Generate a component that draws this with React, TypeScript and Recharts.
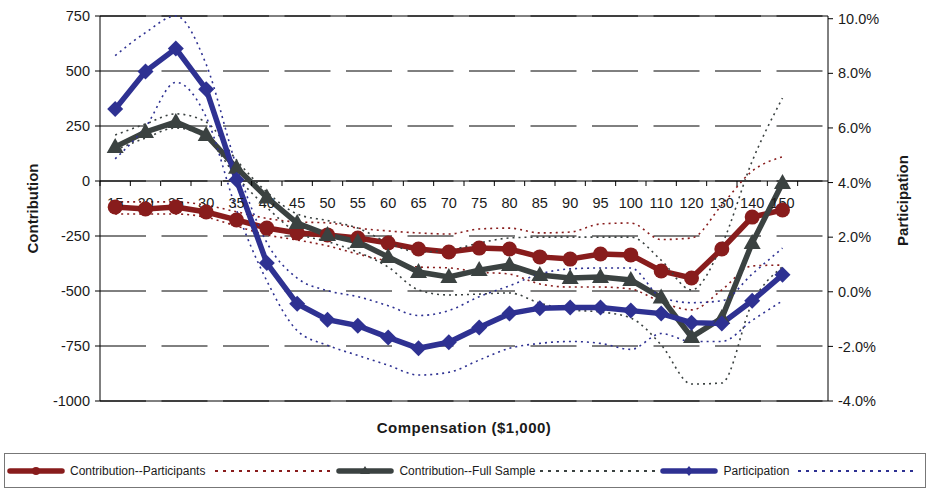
import { CartesianGrid, Legend, Line, LineChart, ReferenceLine, XAxis, YAxis } from "recharts";

// compensation brackets ($1,000); the axis keeps one empty slot after 150
const categories = [
  "15", "20", "25", "30", "35", "40", "45", "50", "55", "60", "65", "70",
  "75", "80", "85", "90", "95", "100", "110", "120", "130", "140", "150",
];
const SLOTS = categories.length + 1;

// contribution, participants only (left axis)
const contribPart = [-118, -127, -118, -141, -177, -214, -236, -245, -259, -282, -309, -323, -305, -309, -345, -355, -332, -336, -409, -441, -309, -164, -132];
const contribPartHi = [-95, -95, -95, -110, -140, -170, -186, -190, -214, -227, -236, -241, -218, -214, -236, -232, -195, -191, -266, -259, -109, 45, 110];
const contribPartLo = [-150, -150, -150, -165, -205, -245, -268, -295, -332, -364, -391, -395, -414, -423, -468, -482, -482, -491, -550, -586, -495, -386, -382];

// contribution, full sample (left axis)
const contribFull = [155, 223, 268, 209, 60, -75, -191, -245, -277, -345, -414, -436, -405, -382, -427, -441, -436, -450, -530, -709, -623, -282, -9];
const contribFullHi = [209, 259, 305, 268, 95, -50, -150, -180, -214, -280, -323, -314, -282, -259, -255, -255, -255, -255, -360, -495, -290, 90, 377];
const contribFullLo = [141, 195, 241, 195, 20, -120, -235, -275, -323, -391, -495, -518, -514, -509, -555, -586, -595, -623, -745, -923, -918, -555, -390];

// participation rate, % (right axis)
const participation = [6.69, 8.07, 8.91, 7.42, 4.1, 1.05, -0.44, -1.02, -1.24, -1.67, -2.07, -1.85, -1.31, -0.8, -0.6, -0.58, -0.58, -0.69, -0.8, -1.13, -1.16, -0.33, 0.62];
const participationHi = [8.65, 9.49, 10.1, 8.33, 4.6, 1.8, 0.5, 0.04, -0.18, -0.51, -0.87, -0.69, -0.18, 0.22, 0.65, 0.84, 0.87, 0.87, -0.2, -0.4, -0.33, 0.65, 1.6];
const participationLo = [4.87, 6.04, 7.67, 6.4, 3.0, 0.4, -1.42, -1.96, -2.33, -2.69, -3.05, -2.95, -2.5, -2.07, -1.89, -1.82, -1.89, -2.11, -1.53, -1.82, -1.82, -1.05, -0.33];

const leftTicks = [-1000, -750, -500, -250, 0, 250, 500, 750];
const rightTicks = [-4, -2, 0, 2, 4, 6, 8, 10];

const FONT = "'Liberation Sans', Arial, sans-serif";
const RED = "#881c1c";
const GRAY = "#3b4241";
const BLUE = "#2e3192";
const TEXT = "#1a1a1a";

const PLOT_W = 728;
const STEP = PLOT_W / SLOTS;

const data = categories.map((comp, i) => ({
  comp,
  cp: contribPart[i],
  cpHi: contribPartHi[i],
  cpLo: contribPartLo[i],
  cf: contribFull[i],
  cfHi: contribFullHi[i],
  cfLo: contribFullLo[i],
  pr: participation[i],
  prHi: participationHi[i],
  prLo: participationLo[i],
}));

function circleDot(p: any) {
  if (p.cx == null || p.cy == null) return <g key={`c${p.index}`} />;
  return <circle key={`c${p.index}`} cx={p.cx} cy={p.cy} r={7.5} fill={RED} />;
}

function triangleDot(p: any) {
  if (p.cx == null || p.cy == null) return <g key={`t${p.index}`} />;
  const { cx, cy } = p;
  return (
    <polygon
      key={`t${p.index}`}
      points={`${cx},${cy - 9} ${cx + 8.5},${cy + 6} ${cx - 8.5},${cy + 6}`}
      fill={GRAY}
    />
  );
}

function diamondDot(p: any) {
  if (p.cx == null || p.cy == null) return <g key={`d${p.index}`} />;
  const { cx, cy } = p;
  return (
    <polygon
      key={`d${p.index}`}
      points={`${cx},${cy - 8} ${cx + 8},${cy} ${cx},${cy + 8} ${cx - 8},${cy}`}
      fill={BLUE}
    />
  );
}

// category labels and between-category tick marks sit on the zero line
function ZeroAxisTicks({ viewBox }: any) {
  if (!viewBox) return null;
  const { x, y, width } = viewBox;
  const step = width / SLOTS;
  const slots = [...categories, ""];
  return (
    <g>
      {slots.map((c, i) => (
        <g key={i}>
          <line x1={x + i * step} x2={x + i * step} y1={y} y2={y + 5} stroke="#000" />
          {c && (
            <text x={x + (i + 0.5) * step} y={y + 27} textAnchor="middle" fontSize={14.5} fontFamily={FONT} fill={TEXT}>
              {c}
            </text>
          )}
        </g>
      ))}
    </g>
  );
}

const legendEntries = [
  { kind: "solid", color: RED, marker: "circle", name: "Contribution--Participants", gapAfter: 10 },
  { kind: "dotted", color: RED, gapAfter: 6 },
  { kind: "solid", color: GRAY, marker: "triangle", name: "Contribution--Full Sample", gapAfter: 5 },
  { kind: "dotted", color: GRAY, gapAfter: 5 },
  { kind: "solid", color: BLUE, marker: "diamond", name: "Participation", gapAfter: 8 },
  { kind: "dotted", color: BLUE, gapAfter: 0 },
];

function LegendSample({ entry }: any) {
  if (entry.kind === "dotted") {
    return (
      <svg width={115} height={10} style={{ display: "block" }}>
        <line x1={0} x2={115} y1={5} y2={5} stroke={entry.color} strokeWidth={1.8} strokeDasharray="3 5" />
      </svg>
    );
  }
  let marker = null;
  if (entry.marker === "circle") marker = <circle cx={29} cy={5} r={4} fill={entry.color} />;
  if (entry.marker === "triangle") marker = <polygon points="29,0 34,8 24,8" fill={entry.color} />;
  if (entry.marker === "diamond") marker = <polygon points="29,0 33,5 29,10 25,5" fill={entry.color} />;
  return (
    <svg width={58} height={10} style={{ display: "block" }}>
      <line x1={3} x2={55} y1={5} y2={5} stroke={entry.color} strokeWidth={5.5} strokeLinecap="round" />
      {marker}
    </svg>
  );
}

function ChartLegend() {
  return (
    <div
      style={{
        width: 918,
        height: 33,
        border: "1px solid #777",
        display: "flex",
        alignItems: "center",
        paddingLeft: 2,
        boxSizing: "content-box",
        fontFamily: FONT,
        fontSize: 12,
        color: TEXT,
      }}
    >
      {legendEntries.map((e, i) => (
        <div key={i} style={{ display: "flex", alignItems: "center", marginRight: e.gapAfter }}>
          <LegendSample entry={e} />
          {e.name && <span style={{ marginLeft: 5, whiteSpace: "nowrap" }}>{e.name}</span>}
        </div>
      ))}
    </div>
  );
}

export default function App() {
  const band = { type: "monotone" as const, dot: false, activeDot: false, strokeWidth: 1.6, strokeDasharray: "2 4", isAnimationActive: false, legendType: "none" as const };
  return (
    <div style={{ position: "absolute", left: 0, top: 0, background: "#fff" }}>
      <LineChart width={927} height={489} data={data} margin={{ top: 16, right: 0, bottom: 1, left: 0 }}>
        <CartesianGrid yAxisId="left" vertical={false} stroke="#000" strokeDasharray="46 15.5" />
        <XAxis
          dataKey="comp"
          interval={0}
          height={52}
          padding={{ left: STEP / 2, right: STEP * 1.5 }}
          tick={false}
          tickLine={false}
          axisLine={{ stroke: "#000" }}
          label={{ value: "Compensation ($1,000)", position: "insideBottom", offset: 20, fontSize: 15, fontWeight: "bold", fontFamily: FONT, fill: TEXT, letterSpacing: 0.5 }}
        />
        <YAxis
          yAxisId="left"
          width={100}
          domain={[-1000, 750]}
          ticks={leftTicks}
          interval={0}
          tickSize={5}
          tickMargin={5}
          axisLine={{ stroke: "#000" }}
          tickLine={{ stroke: "#000" }}
          tick={{ fontSize: 14.5, fontFamily: FONT, fill: TEXT }}
          label={{ value: "Contribution", angle: -90, position: "insideLeft", offset: 33, fontSize: 15, fontWeight: "bold", fontFamily: FONT, fill: TEXT, style: { textAnchor: "middle" } }}
        />
        <YAxis
          yAxisId="right"
          orientation="right"
          width={99}
          domain={[-4, 10]}
          ticks={rightTicks}
          interval={0}
          tickSize={5}
          tickMargin={5}
          axisLine={{ stroke: "#000" }}
          tickLine={{ stroke: "#000" }}
          tickFormatter={(v: number) => `${v.toFixed(1)}%`}
          tick={{ fontSize: 14.5, fontFamily: FONT, fill: TEXT }}
          label={{ value: "Participation", angle: -90, position: "insideRight", offset: 24, dy: -8, fontSize: 15, fontWeight: "bold", fontFamily: FONT, fill: TEXT, style: { textAnchor: "middle" } }}
        />
        <ReferenceLine yAxisId="left" y={750} stroke="#000" />
        <ReferenceLine yAxisId="left" y={0} stroke="#000" />

        <Line yAxisId="left" dataKey="cp" stroke={RED} strokeWidth={5.5} dot={circleDot} activeDot={false} isAnimationActive={false} />
        <Line yAxisId="left" dataKey="cpHi" stroke={RED} {...band} />
        <Line yAxisId="left" dataKey="cpLo" stroke={RED} {...band} />

        <Line yAxisId="left" dataKey="cf" stroke={GRAY} strokeWidth={5.5} dot={triangleDot} activeDot={false} isAnimationActive={false} />
        <Line yAxisId="left" dataKey="cfHi" stroke={GRAY} {...band} />
        <Line yAxisId="left" dataKey="cfLo" stroke={GRAY} {...band} />

        <Line yAxisId="right" dataKey="pr" stroke={BLUE} strokeWidth={5.5} dot={diamondDot} activeDot={false} isAnimationActive={false} />
        <Line yAxisId="right" dataKey="prHi" stroke={BLUE} {...band} />
        <Line yAxisId="right" dataKey="prLo" stroke={BLUE} {...band} />

        {/* category labels drawn last so they sit over the series, as in the original */}
        <ReferenceLine yAxisId="left" y={0} stroke="none" label={<ZeroAxisTicks />} />

        <Legend verticalAlign="bottom" wrapperStyle={{ left: 4, bottom: 1, width: 921 }} content={() => <ChartLegend />} />
      </LineChart>
    </div>
  );
}
